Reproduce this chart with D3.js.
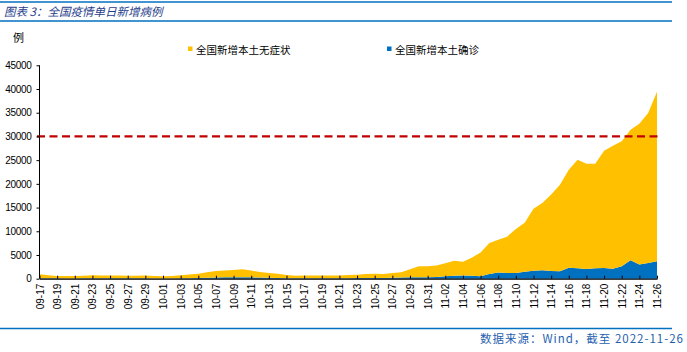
<!DOCTYPE html>
<html>
<head>
<meta charset="utf-8">
<script src="https://cdn.jsdelivr.net/npm/d3@7"></script>
<style>
  body { margin: 0; background: #fff; }
  svg { display: block; }
</style>
</head>
<body>
<script>
// categories: one point per day, 09-17 .. 11-26
const firstDay = "2022-09-17", lastDay = "2022-11-26";
const days = d3.utcDays(new Date(firstDay), d3.utcDay.offset(new Date(lastDay), 1));
const dayLabels = days.map(d3.utcFormat("%m-%d"));

// 全国新增本土确诊
const confirmed = [
  120, 90, 70, 60, 60, 70, 80, 80, 90, 90, 80, 70, 70, 60,
  50, 60, 80, 110, 150, 200, 250, 280, 300, 320, 280, 230, 190, 150, 110, 90,
  90, 100, 110, 110, 110, 120, 130, 150, 170, 160, 190, 230, 280, 330, 330,
  380, 520, 600, 650, 620, 500, 990, 1330, 1190, 1190, 1480, 1690, 1760, 1620, 1550,
  2320, 2180, 2040, 2180, 2250, 2110, 2600, 3870, 3020, 3300, 3660
];
// 全国新增本土无症状
const asymptomatic = [
  810, 630, 500, 510, 520, 570, 640, 620, 610, 560, 560, 570, 630, 510,
  450, 510, 640, 750, 920, 1160, 1390, 1430, 1550, 1680, 1430, 1170, 1010, 910, 670, 550,
  610, 600, 590, 590, 590, 660, 720, 840, 890, 830, 1010, 1110, 1700, 2270, 2270,
  2380, 2730, 3200, 2940, 3810, 5050, 6540, 6900, 7670, 9290, 10330, 13070, 14200, 16160, 18270,
  20670, 22920, 22210, 22070, 24750, 25940, 26360, 27550, 29670, 31640, 35780
];
const yTicks = [0, 5000, 10000, 15000, 20000, 25000, 30000, 35000, 40000, 45000];
const threshold = 30000;

const seriesNames = ["全国新增本土确诊", "全国新增本土无症状"];
const colors = ["#0070C0", "#FFC000"];

const W = 687, H = 352;
const cjk = "'Noto Sans CJK SC', 'Noto Sans', sans-serif";
const latin = "'Liberation Sans', Arial, sans-serif";

const svg = d3.select("body").append("svg")
  .attr("width", W).attr("height", H);

// header / footer rules
svg.append("line").attr("x1", 0).attr("x2", 672).attr("y1", 2).attr("y2", 2)
  .attr("stroke", "#0070C0").attr("stroke-width", 1.5);
svg.append("line").attr("x1", 0).attr("x2", 672).attr("y1", 21).attr("y2", 21)
  .attr("stroke", "#0070C0").attr("stroke-width", 1.5);
svg.append("line").attr("x1", 0).attr("x2", 672).attr("y1", 328.5).attr("y2", 328.5)
  .attr("stroke", "#0070C0").attr("stroke-width", 1.5);

svg.append("text")
  .attr("x", 4).attr("y", 16)
  .style("font-family", cjk).style("font-size", "11.5px").style("font-style", "italic")
  .attr("fill", "#1F3E8C")
  .text("图表 3：全国疫情单日新增病例");

svg.append("text")
  .attr("x", 684).attr("y", 343).attr("text-anchor", "end")
  .style("font-family", cjk).style("font-size", "11.5px").style("letter-spacing", "1px")
  .attr("fill", "#1F5FB0")
  .text("数据来源：Wind，截至 2022-11-26");

svg.append("text")
  .attr("x", 13).attr("y", 42)
  .style("font-family", cjk).style("font-size", "11px")
  .attr("fill", "#000")
  .text("例");

// scales
const x = d3.scalePoint().domain(dayLabels).range([39.5, 657]);
const y = d3.scaleLinear().domain([0, 45000]).range([278.7, 65.3]);

const rows = dayLabels.map((d, i) => ({ day: d, c: confirmed[i], a: asymptomatic[i] }));
const stacked = d3.stack().keys(["c", "a"])(rows);

const area = d3.area()
  .x(d => x(d.data.day))
  .y0(d => y(d[0]))
  .y1(d => y(d[1]));

svg.append("g").selectAll("path")
  .data(stacked)
  .join("path")
    .attr("d", area)
    .attr("fill", (d, i) => colors[i]);

// threshold line
svg.append("line")
  .attr("x1", 37).attr("x2", 661)
  .attr("y1", y(threshold)).attr("y2", y(threshold))
  .attr("stroke", "#C00000").attr("stroke-width", 2.2)
  .attr("stroke-dasharray", "8,4.5");

// y axis
svg.append("g")
  .attr("transform", "translate(39.5,0)")
  .call(d3.axisLeft(y).tickValues(yTicks).tickSize(3).tickPadding(5).tickFormat(d3.format("d")))
  .call(g => g.select(".domain").attr("stroke", "#000").attr("d", `M0,${y(0)}V${y(45000)}`))
  .call(g => g.selectAll("text")
    .style("font-family", latin).style("font-size", "10px").style("letter-spacing", "-0.3px")
    .attr("fill", "#000"));

// x axis
svg.append("g")
  .attr("transform", `translate(0,${y(0)})`)
  .call(d3.axisBottom(x).tickValues(dayLabels.filter((d, i) => i % 2 === 0))
    .tickSizeInner(-3).tickSizeOuter(0).tickPadding(0))
  .call(g => g.select(".domain").attr("stroke", "#000").attr("stroke-width", 1.2))
  .call(g => g.selectAll("text")
    .attr("transform", "rotate(-90)")
    .attr("x", -5).attr("y", 0).attr("dy", "0.35em")
    .attr("text-anchor", "end")
    .style("font-family", latin).style("font-size", "10px")
    .attr("fill", "#000"));

// legend
const legend = [
  { name: seriesNames[1], color: colors[1], x: 188 },
  { name: seriesNames[0], color: colors[0], x: 387 }
];
const lg = svg.append("g").selectAll("g")
  .data(legend)
  .join("g")
    .attr("transform", d => `translate(${d.x},46.5)`);
lg.append("rect").attr("width", 4.5).attr("height", 4.5).attr("fill", d => d.color);
lg.append("text")
  .attr("x", 8).attr("y", 7)
  .style("font-family", cjk).style("font-size", "10.5px")
  .attr("fill", "#000")
  .text(d => d.name);
</script>
</body>
</html>
